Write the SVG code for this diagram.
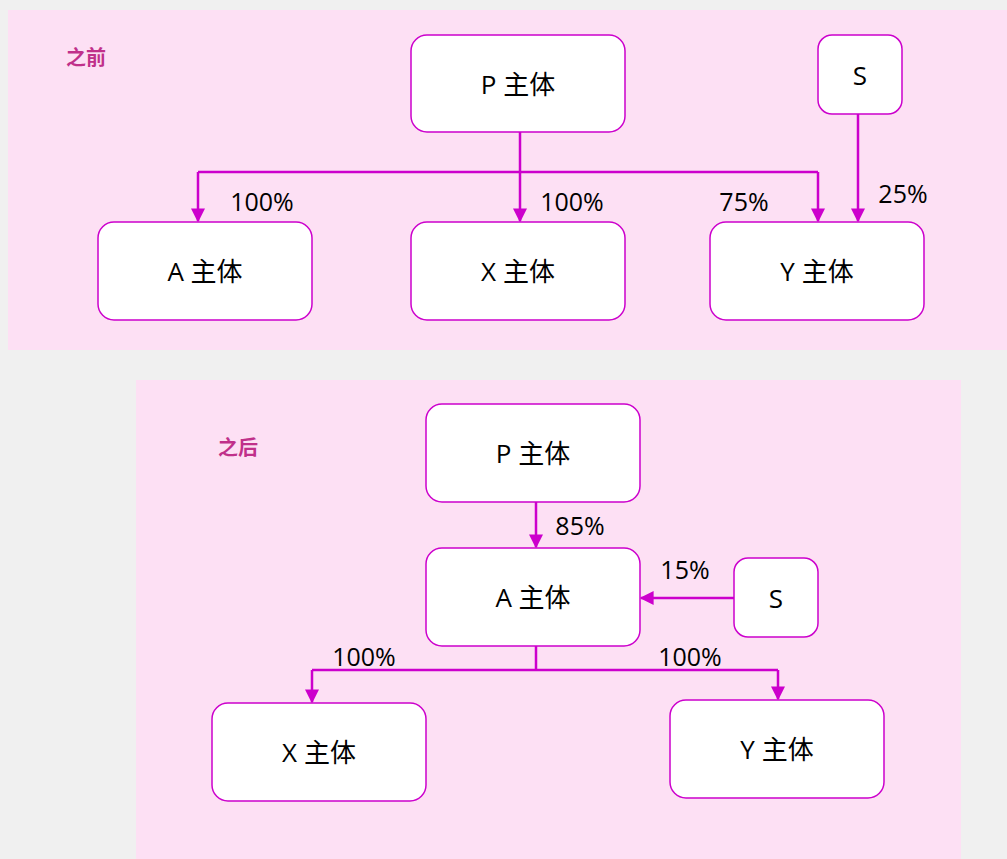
<svg xmlns="http://www.w3.org/2000/svg" width="1007" height="859" viewBox="0 0 1007 859">
<defs>
<marker id="ah" viewBox="0 0 10 10" refX="9" refY="5" markerWidth="15" markerHeight="14" markerUnits="userSpaceOnUse" orient="auto">
<path d="M0,0 L10,5 L0,10 z" fill="#cc00cc"/>
</marker>
<style>
.node rect{fill:#fff;stroke:#cc00cc;stroke-width:1.5}
.node text{font-family:"Open Sans","Noto Sans CJK SC",sans-serif;font-size:26px;fill:#000;text-anchor:middle;dominant-baseline:central}
.conn path{fill:none;stroke:#cc00cc;stroke-width:2.5}
.arr{marker-end:url(#ah)}
.pct{font-family:"Open Sans","Noto Sans CJK SC",sans-serif;font-size:25px;fill:#000;text-anchor:middle;dominant-baseline:central}
.ttl{font-family:"Noto Sans CJK SC",sans-serif;font-size:20px;font-weight:bold;fill:#c0308a;dominant-baseline:central}
</style>
</defs>
<rect width="1007" height="859" fill="#f0f0f0"/>
<rect x="8" y="10" width="999" height="340" fill="#fde0f4"/>
<rect x="136" y="380" width="825" height="479" fill="#fde0f4"/>
<text class="ttl" x="66" y="56">之前</text>
<text class="ttl" x="218" y="446">之后</text>
<g class="conn">
<path class="arr" d="M520,132 V221"/>
<path d="M198,172 H818"/>
<path class="arr" d="M198,172 V221"/>
<path class="arr" d="M818,172 V221"/>
<path class="arr" d="M858,114 V221"/>
<path class="arr" d="M536,502 V547"/>
<path class="arr" d="M734,598 H641"/>
<path d="M536,646 V670 M312,670 H778"/>
<path class="arr" d="M312,670 V702"/>
<path class="arr" d="M778,670 V699"/>
</g>
<text class="pct" x="262" y="201">100%</text>
<text class="pct" x="572" y="201">100%</text>
<text class="pct" x="744" y="201">75%</text>
<text class="pct" x="903" y="193">25%</text>
<text class="pct" x="580" y="525">85%</text>
<text class="pct" x="685" y="569">15%</text>
<text class="pct" x="364" y="656">100%</text>
<text class="pct" x="690" y="656">100%</text>
<g class="node" id="p1"><rect x="411" y="35" width="214" height="97" rx="16"/><text x="518" y="84">P 主体</text></g>
<g class="node" id="s1"><rect x="818" y="35" width="84" height="79" rx="14"/><text x="860" y="75">S</text></g>
<g class="node" id="a1"><rect x="98" y="222" width="214" height="98" rx="16"/><text x="205" y="271">A 主体</text></g>
<g class="node" id="x1"><rect x="411" y="222" width="214" height="98" rx="16"/><text x="518" y="271">X 主体</text></g>
<g class="node" id="y1"><rect x="710" y="222" width="214" height="98" rx="16"/><text x="817" y="271">Y 主体</text></g>
<g class="node" id="p2"><rect x="426" y="404" width="214" height="98" rx="16"/><text x="533" y="453">P 主体</text></g>
<g class="node" id="a2"><rect x="426" y="548" width="214" height="98" rx="16"/><text x="533" y="597">A 主体</text></g>
<g class="node" id="s2"><rect x="734" y="558" width="84" height="79" rx="14"/><text x="776" y="598">S</text></g>
<g class="node" id="x2"><rect x="212" y="703" width="214" height="98" rx="16"/><text x="319" y="752">X 主体</text></g>
<g class="node" id="y2"><rect x="670" y="700" width="214" height="98" rx="16"/><text x="777" y="749">Y 主体</text></g>
</svg>
